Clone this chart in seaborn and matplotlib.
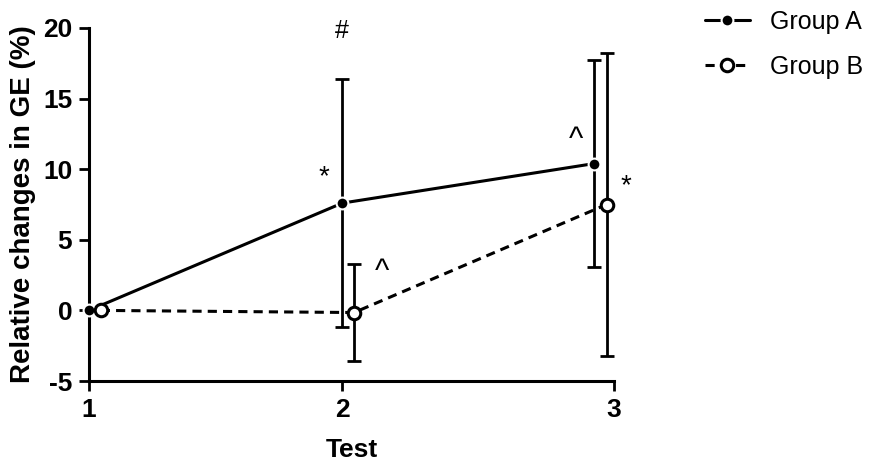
import numpy as np
import pandas as pd
import seaborn as sns
from matplotlib import pyplot as plt

# Datos
tests = [1, 2, 3]
tick_pos = [1, 1.965, 3]
x_a = [1.0, 1.965, 2.925]
x_b = [1.045, 2.01, 2.972]
mean_a = [0.0, 7.6, 10.4]
err_a = [0.0, 8.8, 7.3]
mean_b = [0.0, -0.15, 7.5]
err_b = [0.0, 3.45, 10.7]

df = pd.DataFrame({
    'x': x_a + x_b,
    'change': mean_a + mean_b,
    'err': err_a + err_b,
    'group': ['Group A'] * 3 + ['Group B'] * 3,
})

sns.set_style('ticks')
plt.rcParams['font.family'] = ['Liberation Sans', 'DejaVu Sans']
plt.rcParams['text.color'] = 'black'
plt.rcParams['axes.labelcolor'] = 'black'

fig = plt.figure(figsize=(8.74, 4.62), dpi=100)
ax = fig.add_axes([0.1018, 0.1753, 0.6007, 0.7641])

# Barras de error (solo donde hay error)
for g in ['Group A', 'Group B']:
    d = df[(df['group'] == g) & (df['err'] > 0)]
    ax.errorbar(d['x'], d['change'], yerr=d['err'], fmt='none', ecolor='black',
                elinewidth=2.0, capsize=5, capthick=2.0, zorder=2, clip_on=False)

da = df[df['group'] == 'Group A']
db = df[df['group'] == 'Group B']
sns.lineplot(x=da['x'], y=da['change'], color='black', marker='o', markersize=8.5,
             markeredgewidth=1.5, linewidth=2.2, label='Group A', ax=ax,
             clip_on=False, zorder=3, sort=False)
sns.lineplot(x=db['x'], y=db['change'], color='black', marker='o', markersize=9,
             markerfacecolor='white', markeredgecolor='black', markeredgewidth=2.2,
             linewidth=2.2, linestyle=(0, (3, 2)), label='Group B', ax=ax,
             clip_on=False, zorder=3, sort=False)

# Simbolos de significancia
ax.text(1.965, 19.8, '#', ha='center', va='center', fontsize=18)
ax.text(1.895, 9.4, '*', ha='center', va='center', fontsize=20)
ax.text(2.115, 2.7, '^', ha='center', va='center', fontsize=22)
ax.text(2.855, 12.1, '^', ha='center', va='center', fontsize=22)
ax.text(3.045, 8.8, '*', ha='center', va='center', fontsize=20)

ax.set_xlim(1, 3)
ax.set_ylim(-5, 20)
ax.set_xticks(tick_pos)
ax.set_xticklabels([str(t) for t in tests])
ax.set_yticks([-5, 0, 5, 10, 15, 20])
ax.set_yticklabels(['-5', '0', '5', '10', '15', '20'])
ax.set_xlabel('Test', fontsize=19, fontweight='bold', labelpad=12)
ax.set_ylabel('Relative changes in GE (%)', fontsize=20, fontweight='bold', labelpad=5)

for lbl in ax.get_xticklabels() + ax.get_yticklabels():
    lbl.set_fontweight('bold')
ax.tick_params(axis='both', labelsize=19, width=2.0, length=7, direction='out',
               color='black', labelcolor='black', pad=5)
sns.despine(ax=ax)
for s in ['left', 'bottom']:
    ax.spines[s].set_linewidth(2.2)
    ax.spines[s].set_color('black')

ax.legend(loc='upper left', bbox_to_anchor=(1.13, 1.115), frameon=False, fontsize=18,
          handlelength=1.8, labelspacing=0.85, handletextpad=0.8, labelcolor='black')

fig.savefig('out.png', dpi=100)
